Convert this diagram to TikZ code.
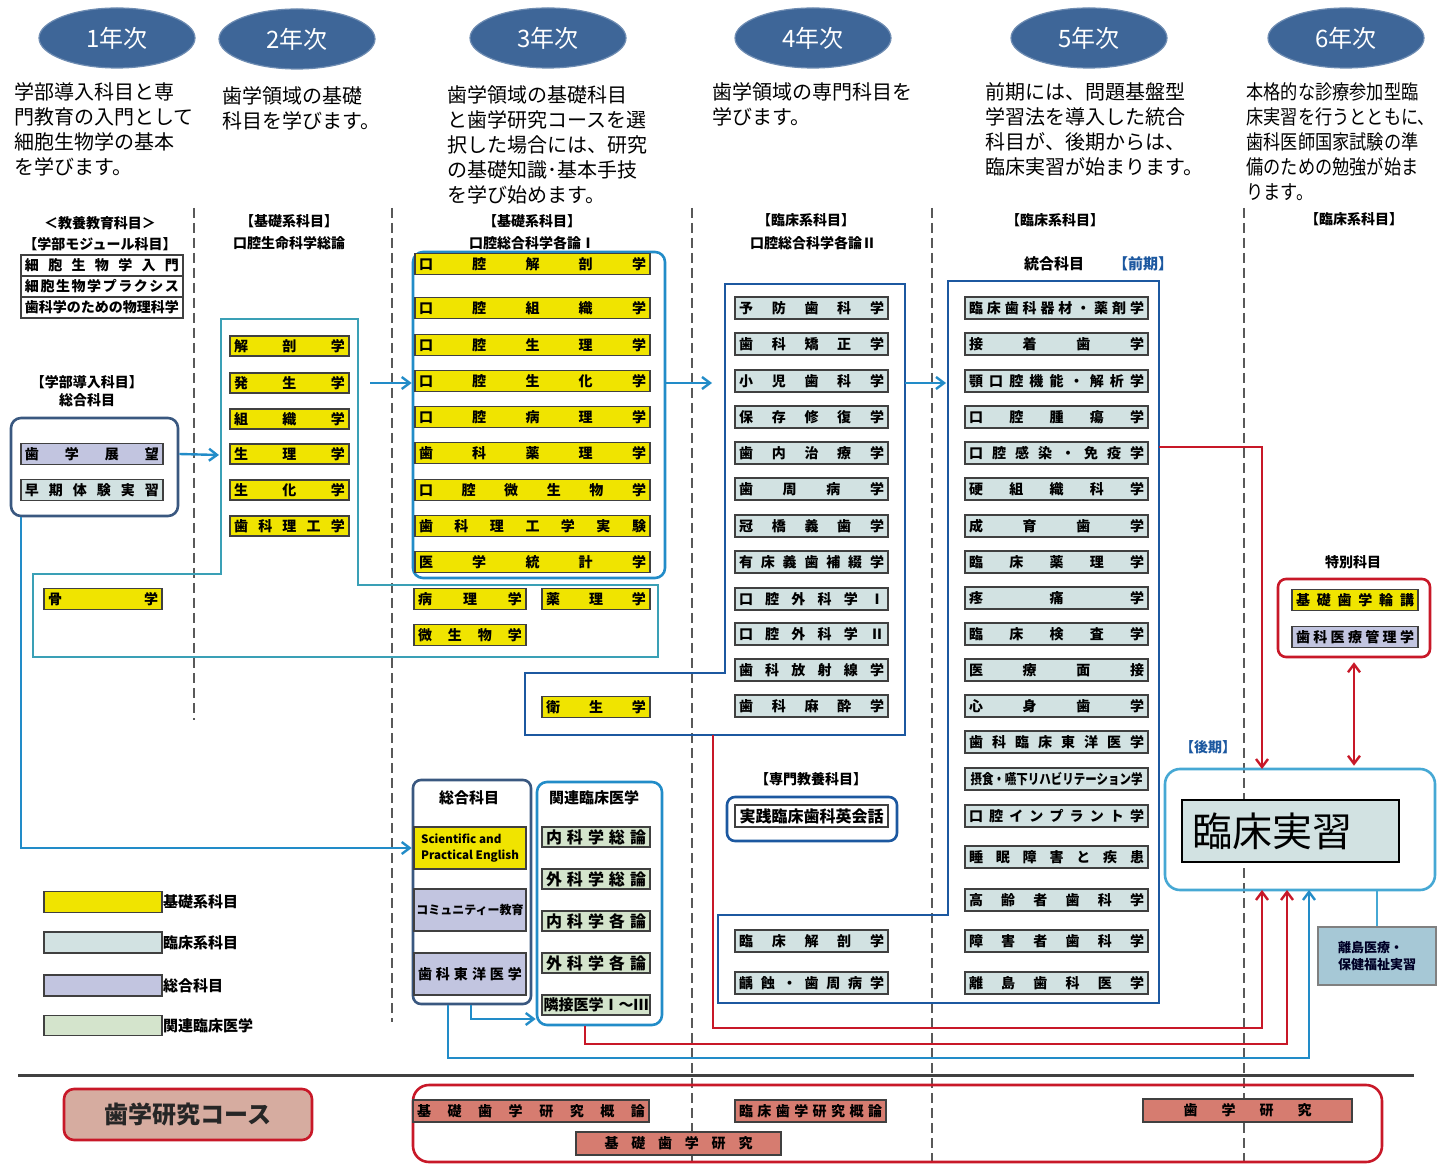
\documentclass[tikz,border=0pt]{standalone}
\usepackage{fontspec}
\usepackage{graphicx}
\setmainfont{Noto Sans CJK JP}
\usetikzlibrary{shapes.geometric,arrows.meta}
\definecolor{kyel}{RGB}{240,228,0}
\definecolor{kcli}{RGB}{210,226,226}
\definecolor{kgen}{RGB}{194,197,224}
\definecolor{krel}{RGB}{212,228,204}
\definecolor{ksal}{RGB}{214,124,112}
\definecolor{kteal}{RGB}{58,160,182}
\definecolor{kblue}{RGB}{34,140,200}
\definecolor{klblue}{RGB}{70,168,212}
\definecolor{kdblue}{RGB}{28,88,160}
\definecolor{kslate}{RGB}{58,88,128}
\definecolor{kred}{RGB}{200,24,40}
\definecolor{kell}{RGB}{62,102,152}
\definecolor{kcourse}{RGB}{214,172,160}
\definecolor{kisl}{RGB}{166,200,214}
\makeatletter
\def\spr#1{\spr@a#1\spr@end}
\def\spr@a#1#2\spr@end{#1\ifx\relax#2\relax\else\hfill\spr@a#2\spr@end\fi}
\makeatother
\newcommand\kb[7]{\node[#1,minimum width={(#4-#3)*0.5pt},minimum height={#6*0.5pt}] (#2) at ({(#3+#4)/2},#5) {\makebox[\dimexpr #4pt/2-#3pt/2-4pt\relax]{\spr{#7}}};}
\newcommand\kn[7]{\node[#1,minimum width={(#4-#3)*0.5pt},minimum height={#6*0.5pt}] (#2) at ({(#3+#4)/2},#5) {#7};}
\newcommand\kw[8]{\node[#1,minimum width={(#4-#3)*0.5pt},minimum height={#6*0.5pt}] (#2) at ({(#3+#4)/2},#5) {\makebox[#7pt]{\spr{#8}}};}
\begin{document}
\begin{tikzpicture}[x=0.5pt,y=-0.5pt,
 bx/.style={draw=black!75,line width=0.8pt,inner sep=0pt,font=\bfseries\fontsize{7}{8}\selectfont},
 yb/.style={bx,fill=kyel}, cb/.style={bx,fill=kcli}, gb/.style={bx,fill=kgen},
 rb/.style={bx,fill=krel}, wb/.style={bx,fill=white}, sb/.style={bx,fill=ksal},
 hd/.style={inner sep=0pt,font=\bfseries\fontsize{7}{8}\selectfont},
 desc/.style={anchor=north west,inner sep=0pt,align=left,font=\fontsize{10}{12.5}\selectfont},
 hdr/.style={ellipse,fill=kell,draw=kell!75!white,line width=0.6pt,minimum width=78pt,minimum height=30pt,text=white,font=\fontsize{12}{14}\selectfont},
 sepl/.style={draw=black!65,line width=1pt,dash pattern=on 5pt off 2.5pt},
 arr/.style={-{Straight Barb[length=4pt,width=6pt]}},
 blu/.style={draw=kblue,line width=1.2pt},
 redl/.style={draw=kred,line width=1.2pt},
 cont/.style={inner sep=0pt,line width=1.3pt}]
\useasboundingbox (0,0) rectangle (1440,1165);
\clip (0,0) rectangle (1440,1165);
\fill[white] (0,0) rectangle (1440,1165);
% separators
\draw[sepl] (194,208) -- (194,720);
\draw[sepl] (392,208) -- (392,1022);
\draw[sepl] (692,208) -- (692,1165);
\draw[sepl] (932,208) -- (932,1165);
\draw[sepl] (1244,208) -- (1244,1165);
% headers
\node[hdr] (y1) at (117,38) {1年次};
\node[hdr] (y2) at (297,39) {2年次};
\node[hdr] (y3) at (548,38) {3年次};
\node[hdr] (y4) at (813,38) {4年次};
\node[hdr] (y5) at (1089,38) {5年次};
\node[hdr] (y6) at (1346,38) {6年次};
\node[desc] (d1) at (14,82) {学部導入科目と専\\門教育の入門として\\細胞生物学の基本\\を学びます。};
\node[desc] (d2) at (222,86) {歯学領域の基礎\\科目を学びます。};
\node[desc] (d3) at (447,85) {歯学領域の基礎科目\\と歯学研究コースを選\\択した場合には、研究\\の基礎知識･基本手技\\を学び始めます。};
\node[desc] (d4) at (712,82) {歯学領域の専門科目を\\学びます。};
\node[desc] (d5) at (985,82) {前期には、問題基盤型\\学習法を導入した統合\\科目が、後期からは、\\臨床実習が始まります。};
\node[desc] (d6) at (1246,82) {\scalebox{0.86}[1]{\parbox[t]{110pt}{\raggedright 本格的な診療参加型臨\\床実習を行うとともに、\\歯科医師国家試験の準\\備のための勉強が始ま\\ります。}}};
% column 1
\node[hd] (h1a) at (100,223) {＜教養教育科目＞};
\node[hd] (h1b) at (100,244) {【学部モジュール科目】};
\kb{wb}{m1}{21}{183}{265.5}{21}{細胞生物学入門}
\kb{wb}{m2}{21}{183}{286.5}{21}{細胞生物学プラクシス}
\kb{wb}{m3}{21}{183}{307.5}{21}{歯科学のための物理科学}
\node[hd] (h1c) at (87,382) {【学部導入科目】};
\node[hd] (h1d) at (87,400) {総合科目};
\node[cont,draw=kslate,rounded corners=5pt,minimum width=83.5pt,minimum height=49pt] (intro) at (94.5,467) {};
\kb{gb}{i1}{21}{163}{454}{21}{歯学展望}
\kb{cb}{i2}{21}{163}{490}{21}{早期体験実習}
% column 2
\node[hd] (h2a) at (289,221) {【基礎系科目】};
\node[hd] (h2b) at (289,243) {口腔生命科学総論};
\draw[draw=kteal,line width=1.2pt] (221,319) -- (358,319) -- (358,585) -- (658,585) -- (658,657) -- (33,657) -- (33,574) -- (221,574) -- cycle;
\coordinate (p2in) at (219,455);
\coordinate (p2out) at (370,383);
\kb{yb}{c2a}{230}{349}{346}{20}{解剖学}
\kb{yb}{c2b}{230}{349}{383}{20}{発生学}
\kb{yb}{c2c}{230}{349}{419}{20}{組織学}
\kb{yb}{c2d}{230}{349}{454}{20}{生理学}
\kb{yb}{c2e}{230}{349}{490}{20}{生化学}
\kb{yb}{c2f}{230}{349}{526}{20}{歯科理工学}
\kb{yb}{bone}{44}{162}{599}{21}{骨学}
% column 3
\node[hd] (h3a) at (532,221) {【基礎系科目】};
\node[hd] (h3b) at (532,243) {口腔総合科学各論Ⅰ};
\node[cont,draw=kblue,rounded corners=5pt,minimum width=126pt,minimum height=163pt] (c3) at (539,415) {};
\kb{yb}{c3a}{415}{650}{264}{21}{口腔解剖学}
\kb{yb}{c3b}{415}{650}{308}{21}{口腔組織学}
\kb{yb}{c3c}{415}{650}{345}{21}{口腔生理学}
\kb{yb}{c3d}{415}{650}{381}{21}{口腔生化学}
\kb{yb}{c3e}{415}{650}{417}{21}{口腔病理学}
\kb{yb}{c3f}{415}{650}{453}{21}{歯科薬理学}
\kb{yb}{c3g}{415}{650}{490}{21}{口腔微生物学}
\kb{yb}{c3h}{415}{650}{526}{21}{歯科理工学実験}
\kb{yb}{c3i}{415}{650}{562}{21}{医学統計学}
\kb{yb}{c3j}{414}{526}{599}{21}{病理学}
\kb{yb}{c3k}{542}{650}{599}{21}{薬理学}
\kb{yb}{c3l}{414}{526}{635}{21}{微生物学}
% column 4
\node[hd] (h4a) at (806,220) {【臨床系科目】};
\node[hd] (h4b) at (813,243) {口腔総合科学各論Ⅱ};
\draw[draw=kdblue,line width=1.3pt] (725,284) -- (905,284) -- (905,735) -- (525,735) -- (525,673) -- (725,673) -- cycle;
\coordinate (p4in) at (712,383);
\coordinate (p4out) at (905,383);
\coordinate (p4bot) at (713,735);
\kb{yb}{c3m}{542}{650}{707}{21}{衛生学}
\kb{cb}{c4a}{735}{888}{308}{22}{予防歯科学}
\kb{cb}{c4b}{735}{888}{344}{22}{歯科矯正学}
\kb{cb}{c4c}{735}{888}{381}{22}{小児歯科学}
\kb{cb}{c4d}{735}{888}{417}{22}{保存修復学}
\kb{cb}{c4e}{735}{888}{453}{22}{歯内治療学}
\kb{cb}{c4f}{735}{888}{489}{22}{歯周病学}
\kb{cb}{c4g}{735}{888}{526}{22}{冠橋義歯学}
\kb{cb}{c4h}{735}{888}{562}{22}{有床義歯補綴学}
\kb{cb}{c4i}{735}{888}{599}{22}{口腔外科学Ⅰ}
\kb{cb}{c4j}{735}{888}{634}{22}{口腔外科学Ⅱ}
\kb{cb}{c4k}{735}{888}{670}{22}{歯科放射線学}
\kb{cb}{c4l}{735}{888}{706}{22}{歯科麻酔学}
\node[hd] (h4c) at (811,779) {【専門教養科目】};
\node[cont,draw=kdblue,rounded corners=4pt,minimum width=85pt,minimum height=22pt] (senbox) at (812,819) {};
\kn{wb,font=\bfseries\fontsize{8}{9}\selectfont}{sen}{735}{888}{816}{22}{実践臨床歯科英会話}
% column 5
\node[hd] (h5a) at (1055,220) {【臨床系科目】};
\node[hd,font=\bfseries\fontsize{7.5}{9}\selectfont] (h5b) at (1054,264) {統合科目};
\node[hd,text=kdblue,font=\bfseries\fontsize{7.5}{9}\selectfont] (h5c) at (1143,264) {【前期】};
\draw[draw=kdblue,line width=1.3pt] (948,281) -- (1159,281) -- (1159,1003) -- (718,1003) -- (718,915) -- (948,915) -- cycle;
\coordinate (p5in) at (946,383);
\coordinate (p5out) at (1159,447);
\kb{cb}{c4m}{735}{888}{941}{22}{臨床解剖学}
\kb{cb}{c4n}{735}{888}{983}{22}{齲蝕・歯周病学}
\kb{cb}{c5a}{965}{1148}{308}{22}{臨床歯科器材・薬剤学}
\kb{cb}{c5b}{965}{1148}{344}{22}{接着歯学}
\kb{cb}{c5c}{965}{1148}{381}{22}{顎口腔機能・解析学}
\kb{cb}{c5d}{965}{1148}{417}{22}{口腔腫瘍学}
\kb{cb}{c5e}{965}{1148}{453}{22}{口腔感染・免疫学}
\kb{cb}{c5f}{965}{1148}{489}{22}{硬組織科学}
\kb{cb}{c5g}{965}{1148}{526}{22}{成育歯学}
\kb{cb}{c5h}{965}{1148}{562}{22}{臨床薬理学}
\kb{cb}{c5i}{965}{1148}{598}{22}{疼痛学}
\kb{cb}{c5j}{965}{1148}{634}{22}{臨床検査学}
\kb{cb}{c5k}{965}{1148}{670}{22}{医療面接}
\kb{cb}{c5l}{965}{1148}{706}{22}{心身歯学}
\kb{cb}{c5m}{965}{1148}{742}{22}{歯科臨床東洋医学}
\kn{cb}{c5n}{965}{1148}{779}{22}{\scalebox{0.82}[1]{摂食・嚥下リハビリテーション学}}
\kb{cb}{c5o}{965}{1148}{816}{22}{口腔インプラント学}
\kb{cb}{c5p}{965}{1148}{857}{22}{睡眠障害と疾患}
\kb{cb}{c5q}{965}{1148}{900}{22}{高齢者歯科学}
\kb{cb}{c5r}{965}{1148}{941}{22}{障害者歯科学}
\kb{cb}{c5s}{965}{1148}{983}{22}{離島歯科医学}
% column 6
\node[hd] (h6a) at (1354,219) {【臨床系科目】};
\node[hd] (h6b) at (1353,562) {特別科目};
\node[cont,draw=kred,rounded corners=4pt,minimum width=76pt,minimum height=39pt] (spbox) at (1354,618) {};
\kb{yb}{sp1}{1292}{1418}{600}{21}{基礎歯学輪講}
\kb{gb}{sp2}{1292}{1418}{637}{21}{歯科医療管理学}
\node[hd,text=kdblue] (h6c) at (1208,747) {【後期】};
\node[cont,draw=klblue,rounded corners=7.5pt,minimum width=135pt,minimum height=60.5pt] (clin) at (1300,829.5) {};
\node[draw=black,line width=1.4pt,fill=kcli,inner sep=0pt,minimum width=108.5pt,minimum height=31pt,font=\fontsize{20}{22}\selectfont] (clinin) at (1290.5,831) {\makebox[104pt][l]{\hspace{3pt}臨床実習}};
\node[draw=black!50,line width=0.6pt,fill=kisl,inner sep=0pt,minimum width=59pt,minimum height=29pt,align=left,text=black!85!blue,font=\bfseries\fontsize{6.5}{8.5}\selectfont] (isl) at (1377,956) {離島医療・\\保健福祉実習};
% column 3 lower general boxes
\node[cont,draw=kslate,rounded corners=4pt,minimum width=59pt,minimum height=112pt] (genbox) at (472,892) {};
\node[hd,font=\bfseries\fontsize{7.5}{9}\selectfont] (genh) at (469,798) {総合科目};
\node[yb,minimum width=56pt,minimum height=21pt,align=left,font=\bfseries\fontsize{5.8}{7.6}\selectfont] (sci) at (470,848) {Scientific and\\Practical English};
\kn{gb,font=\bfseries\fontsize{6}{7}\selectfont}{comm}{414}{526}{910}{42}{コミュニティー教育}
\kb{gb}{toyo}{414}{526}{974}{42}{歯科東洋医学}
\node[cont,draw=kblue,rounded corners=5pt,minimum width=62.5pt,minimum height=121.5pt] (relbox) at (599.5,903.5) {};
\node[hd,font=\bfseries\fontsize{7.5}{9}\selectfont] (relh) at (594,798) {関連臨床医学};
\kb{rb,font=\bfseries\fontsize{8}{9}\selectfont}{rl1}{542}{650}{837}{20}{内科学総論}
\kb{rb,font=\bfseries\fontsize{8}{9}\selectfont}{rl2}{542}{650}{879}{20}{外科学総論}
\kb{rb,font=\bfseries\fontsize{8}{9}\selectfont}{rl3}{542}{650}{921}{20}{内科学各論}
\kb{rb,font=\bfseries\fontsize{8}{9}\selectfont}{rl4}{542}{650}{963}{20}{外科学各論}
\kn{rb,font=\bfseries\fontsize{7.5}{9}\selectfont}{rl5}{542}{650}{1005}{20}{隣接医学Ⅰ～Ⅲ}
% legend
\kn{yb}{lg1}{44}{162}{902}{21}{}
\kn{cb}{lg2}{44}{162}{942.5}{21}{}
\kn{gb}{lg3}{44}{162}{985.5}{21}{}
\kn{rb}{lg4}{44}{162}{1025.5}{20}{}
\node[hd,anchor=west,font=\bfseries\fontsize{7.5}{9}\selectfont] (lt1) at (lg1.east) {基礎系科目};
\node[hd,anchor=west,font=\bfseries\fontsize{7.5}{9}\selectfont] (lt2) at (lg2.east) {臨床系科目};
\node[hd,anchor=west,font=\bfseries\fontsize{7.5}{9}\selectfont] (lt3) at (lg3.east) {総合科目};
\node[hd,anchor=west,font=\bfseries\fontsize{7.5}{9}\selectfont] (lt4) at (lg4.east) {関連臨床医学};
% research course
\draw[draw=black!75,line width=1.5pt] (18,1075) -- (1414,1075);
\node[draw=kred,line width=1.3pt,fill=kcourse,rounded corners=5pt,minimum width=124pt,minimum height=25.5pt,font=\bfseries\fontsize{12}{14}\selectfont,text=black!85] (course) at (188,1114.5) {歯学研究コース};
\node[cont,draw=kred,rounded corners=8pt,minimum width=484.5pt,minimum height=38.5pt] (resbox) at (897.5,1123.5) {};
\kb{sb}{s1}{413}{649}{1111}{22}{基礎歯学研究概論}
\kb{sb}{s2}{735}{886}{1111}{22}{臨床歯学研究概論}
\kw{sb}{s3}{576}{781}{1143.5}{23}{74}{基礎歯学研究}
\kw{sb}{s4}{1143}{1352}{1110.5}{23}{64}{歯学研究}
% connectors
\draw[blu,arr] (intro.east |- i1) -- (p2in);
\draw[blu,arr] (p2out) -- (c3.west |- p2out);
\draw[blu,arr] (c3.east |- p4in) -- (p4in);
\draw[blu,arr] (p4out) -- (p5in);
\coordinate (cl1) at (1262,769);
\coordinate (cl1b) at (1262,890);
\coordinate (cl2b) at (1287,890);
\coordinate (cl3b) at (1309,890);
\draw[redl,arr] (p5out) -| (cl1);
\draw[redl,arr] (p4bot) -- (713,1028) -| (cl1b);
\draw[redl,arr] (relbox.south -| 585,0) -- (585,1044) -| (cl2b);
\draw[blu,arr] (genbox.south -| 448,0) -- (448,1058) -| (cl3b);
\draw[blu,arr] (genbox.south -| 471,0) |- (relbox.west |- 0,1019);
\draw[blu,arr] (intro.south -| 21,0) |- (genbox.west |- sci);
\draw[redl,{Straight Barb[length=4pt,width=6pt]}-{Straight Barb[length=4pt,width=6pt]}] ([yshift=-2pt]spbox.south) -- ([yshift=1pt]spbox.south |- clin.north);
\draw[draw=klblue,line width=1pt] (isl.north |- clin.south) -- (isl.north);
\end{tikzpicture}
\end{document}
